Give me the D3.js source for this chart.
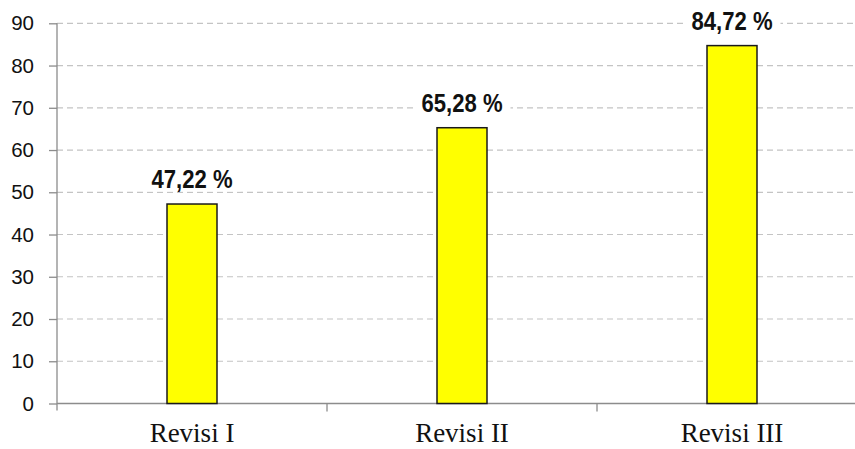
<!DOCTYPE html>
<html>
<head>
<meta charset="utf-8">
<script src="https://cdn.jsdelivr.net/npm/d3@7"></script>
<style>
  html, body { margin: 0; padding: 0; background: #fff; }
  svg { display: block; }
</style>
</head>
<body>
<svg id="chart" width="855" height="449"></svg>
<script>
const categories = ["Revisi I", "Revisi II", "Revisi III"];
const values = [47.22, 65.28, 84.72];
const valueLabels = ["47,22 %", "65,28 %", "84,72 %"];
const yTicks = [0, 10, 20, 30, 40, 50, 60, 70, 80, 90];

(function () {
const svg = d3.select("#chart");
const pLeft = 57, pRight = 867, pTop = 23.3, pBottom = 403.5;

const x = d3.scalePoint().domain(categories).range([pLeft, pRight]).padding(0.5);
const y = d3.scaleLinear().domain([0, 90]).range([pBottom, pTop]);
const barW = 50;

// gridlines
svg.append("g").selectAll("line").data(yTicks.filter(d => d > 0)).join("line")
  .attr("x1", pLeft).attr("x2", 855)
  .attr("y1", d => y(d)).attr("y2", d => y(d))
  .attr("stroke", "#c4c4c4").attr("stroke-width", 1.2)
  .attr("stroke-dasharray", "6,4");

// y axis
const yAxis = d3.axisLeft(y).tickValues(yTicks).tickSize(8).tickPadding(15);
const gy = svg.append("g").attr("transform", `translate(${pLeft},0)`).call(yAxis);
gy.select(".domain").attr("stroke", "#8c8c8c").attr("stroke-width", 1.3)
  .attr("d", `M0,${pTop}V${pBottom + 7}`);
gy.selectAll(".tick line").attr("stroke", "#8c8c8c").attr("stroke-width", 1.3);
gy.selectAll(".tick text").attr("font-family", "Liberation Sans, Arial, sans-serif")
  .attr("font-size", 20.5).attr("fill", "#111");

// x axis line & ticks between categories
const step = x.step();
const boundaries = categories.slice(1).map(c => x(c) - step / 2);
svg.append("line").attr("x1", pLeft).attr("x2", 855).attr("y1", pBottom).attr("y2", pBottom)
  .attr("stroke", "#8c8c8c").attr("stroke-width", 1.3);
svg.append("g").selectAll("line").data(boundaries).join("line")
  .attr("x1", d => d).attr("x2", d => d).attr("y1", pBottom).attr("y2", pBottom + 8)
  .attr("stroke", "#8c8c8c").attr("stroke-width", 1.3);

// bars
svg.append("g").selectAll("rect").data(values).join("rect")
  .attr("x", (d, i) => x(categories[i]) - barW / 2)
  .attr("width", barW)
  .attr("y", d => y(d))
  .attr("height", d => pBottom - y(d))
  .attr("fill", "#ffff00").attr("stroke", "#1a1a1a").attr("stroke-width", 1.5);

// value labels with white background (condensed bold)
const sx = 0.85;
const lbl = svg.append("g").selectAll("g").data(values).join("g")
  .attr("transform", (d, i) => `translate(${x(categories[i])},${y(d) - 16})`);
lbl.append("rect").attr("class", "bg");
lbl.append("text")
  .attr("text-anchor", "middle")
  .attr("transform", `scale(${sx},1)`)
  .attr("font-family", "Liberation Sans Narrow, Arial Narrow, Liberation Sans, sans-serif")
  .attr("font-weight", "bold").attr("font-size", 26).attr("fill", "#111")
  .text((d, i) => valueLabels[i]);
lbl.each(function() {
  const t = d3.select(this).select("text").node().getBBox();
  d3.select(this).select("rect.bg")
    .attr("x", t.x * sx - 8).attr("y", t.y + 2).attr("width", t.width * sx + 16).attr("height", t.height - 4)
    .attr("fill", "#fff");
});

// category labels
svg.append("g").selectAll("text").data(categories).join("text")
  .attr("x", d => x(d)).attr("y", 442)
  .attr("text-anchor", "middle")
  .attr("font-family", "Liberation Serif, Times New Roman, serif")
  .attr("font-size", 27).attr("fill", "#111")
  .text(d => d);
})();
</script>
</body>
</html>
